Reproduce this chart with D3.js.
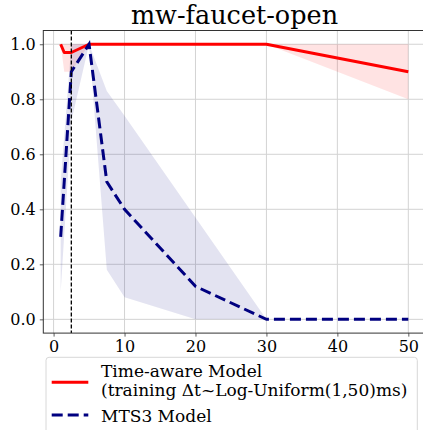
<!DOCTYPE html>
<html>
<head>
<meta charset="utf-8">
<script src="https://cdn.jsdelivr.net/npm/d3@7"></script>
<style>
  body { margin: 0; background: #fff; }
</style>
</head>
<body>
<div id="chart"></div>
<script>
// Data
const timeAwareX = [1, 1.5, 2.5, 5, 7.5, 10, 20, 30, 50];
const timeAwareMean = [1.0, 0.97, 0.97, 1.0, 1.0, 1.0, 1.0, 1.0, 0.9];
const timeAwareLow = [1.0, 0.9, 0.9, 1.0, 1.0, 1.0, 1.0, 1.0, 0.8];
const timeAwareHigh = [1.0, 1.0, 1.0, 1.0, 1.0, 1.0, 1.0, 1.0, 1.0];

const mts3X = [1, 2.5, 5, 7.5, 10, 20, 30, 50];
const mts3Mean = [0.3, 0.9, 1.0, 0.5, 0.4, 0.12, 0.0, 0.0];
const mts3Low = [0.1, 0.72, 1.0, 0.18, 0.08, 0.0, 0.0, 0.0];
const mts3High = [0.5, 1.0, 1.0, 0.83, 0.74, 0.37, 0.0, 0.0];

const trainLimit = 2.5;
const xTicks = [0, 10, 20, 30, 40, 50];
const yTicks = [0.0, 0.2, 0.4, 0.6, 0.8, 1.0];

const config = {
  width: 423,
  height: 430,
  left: 43.3,
  right: 425.7,
  top: 30.5,
  bottom: 333.1,
  font: "DejaVu Serif",
};

const { width, height } = config;

const svg = d3.select("#chart")
  .append("svg")
  .attr("width", width)
  .attr("height", height);

const x = d3.scaleLinear().domain([-1.45, 52.45]).range([config.left, config.right]);
const y = d3.scaleLinear().domain([-0.05, 1.05]).range([config.bottom, config.top]);

// Grid
svg.append("g")
  .selectAll("line")
  .data(xTicks)
  .join("line")
  .attr("x1", (d) => x(d)).attr("x2", (d) => x(d))
  .attr("y1", config.top).attr("y2", config.bottom)
  .attr("stroke", "#d3d3d3").attr("stroke-width", 1);

svg.append("g")
  .selectAll("line")
  .data(yTicks)
  .join("line")
  .attr("x1", config.left).attr("x2", config.right)
  .attr("y1", (d) => y(d)).attr("y2", (d) => y(d))
  .attr("stroke", "#d3d3d3").attr("stroke-width", 1);

function band(xs, lo, hi) {
  const pts = xs.map((v, i) => ({ x: v, lo: lo[i], hi: hi[i] }));
  return d3.area().x((d) => x(d.x)).y0((d) => y(d.lo)).y1((d) => y(d.hi))(pts);
}
function line(xs, ys) {
  return d3.line().x((d) => x(d[0])).y((d) => y(d[1]))(xs.map((v, i) => [v, ys[i]]));
}

// Bands
svg.append("path")
  .attr("d", band(timeAwareX, timeAwareLow, timeAwareHigh))
  .attr("fill", "rgba(255,0,0,0.11)");
svg.append("path")
  .attr("d", band(mts3X, mts3Low, mts3High))
  .attr("fill", "rgba(0,0,128,0.11)");

// Lines
svg.append("path")
  .attr("d", line(timeAwareX, timeAwareMean))
  .attr("fill", "none")
  .attr("stroke", "#ff0000")
  .attr("stroke-width", 3)
  .attr("stroke-linejoin", "round");

svg.append("path")
  .attr("d", line(mts3X, mts3Mean))
  .attr("fill", "none")
  .attr("stroke", "#000080")
  .attr("stroke-width", 3)
  .attr("stroke-dasharray", "11,5");

// Training range marker
svg.append("line")
  .attr("x1", x(trainLimit)).attr("x2", x(trainLimit))
  .attr("y1", config.top).attr("y2", config.bottom)
  .attr("stroke", "#000")
  .attr("stroke-width", 1.3)
  .attr("stroke-dasharray", "4,2");

// Axes
const xAxis = svg.append("g")
  .attr("transform", `translate(0,${config.bottom})`)
  .call(d3.axisBottom(x).tickValues(xTicks).tickSize(3.5).tickPadding(4).tickFormat(d3.format("d")));
const yAxis = svg.append("g")
  .attr("transform", `translate(${config.left},0)`)
  .call(d3.axisLeft(y).tickValues(yTicks).tickSize(3.5).tickPadding(4).tickFormat(d3.format(".1f")));

[xAxis, yAxis].forEach((g) => {
  g.select(".domain").remove();
  g.attr("font-family", config.font).attr("font-size", 16);
  g.selectAll("text").attr("fill", "#000");
  g.selectAll("line").attr("stroke", "#333").attr("stroke-width", 0.8);
});

// Spines
svg.append("rect")
  .attr("x", config.left).attr("y", config.top)
  .attr("width", config.right - config.left)
  .attr("height", config.bottom - config.top)
  .attr("fill", "none")
  .attr("stroke", "#333")
  .attr("stroke-width", 1);

// Title
svg.append("text")
  .attr("x", (config.left + config.right) / 2)
  .attr("y", 24)
  .attr("text-anchor", "middle")
  .attr("font-family", config.font)
  .attr("font-size", 25.5)
  .text("mw-faucet-open");

// Legend
const legend = svg.append("g");
legend.append("rect")
  .attr("x", 46).attr("y", 357.3)
  .attr("width", 371.3).attr("height", 90)
  .attr("rx", 3)
  .attr("fill", "#fff")
  .attr("stroke", "#d8d8d8")
  .attr("stroke-width", 1);

legend.append("line")
  .attr("x1", 51.7).attr("x2", 88.3).attr("y1", 382.3).attr("y2", 382.3)
  .attr("stroke", "#ff0000").attr("stroke-width", 3);
legend.append("line")
  .attr("x1", 51.7).attr("x2", 88.3).attr("y1", 415).attr("y2", 415)
  .attr("stroke", "#000080").attr("stroke-width", 3).attr("stroke-dasharray", "11,5");

const legendText = [
  ["Time-aware Model", 376.7],
  ["(training Δt~Log-Uniform(1,50)ms)", 395.7],
  ["MTS3 Model", 421.7],
];
legend.selectAll("text.item")
  .data(legendText)
  .join("text")
  .attr("class", "item")
  .attr("x", 101)
  .attr("y", (d) => d[1])
  .attr("font-family", config.font)
  .attr("font-size", 17)
  .text((d) => d[0]);
</script>
</body>
</html>
